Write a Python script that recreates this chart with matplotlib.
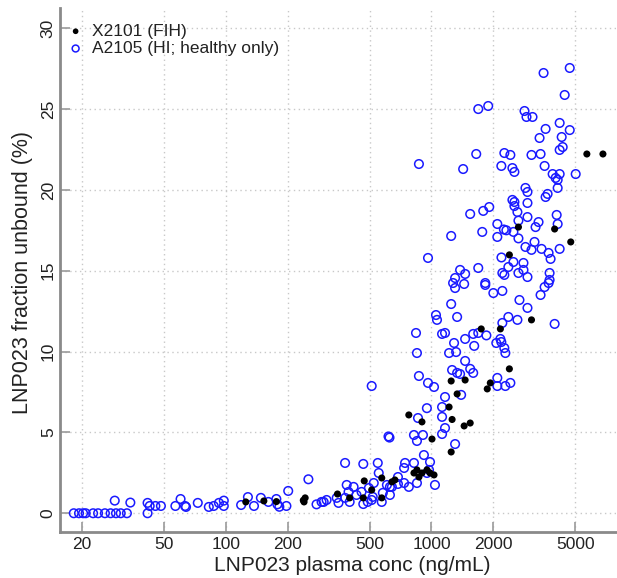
import matplotlib
matplotlib.use("Agg")
import matplotlib.pyplot as plt
from matplotlib.ticker import FixedLocator, FixedFormatter, NullLocator

plt.rcParams['font.family'] = ['Liberation Sans', 'DejaVu Sans']

# Study X2101 (FIH): plasma concentration (ng/mL) and fraction unbound (%)
x2101_conc = [125, 153, 176, 238, 243, 240, 349, 400, 466, 471, 512, 573, 573, 642, 664,
              822, 850, 869, 899, 951, 984, 1029, 1006, 1247, 1260, 1746, 2164, 2393, 1247,
              1458, 1933, 1868, 1333, 1218, 776, 899, 1442, 1543, 2649, 2393, 5700, 6825,
              3973, 4759, 3066]
x2101_fu = [0.7, 0.76, 0.72, 0.8, 0.95, 0.7, 1.19, 0.95, 0.95, 2.0, 1.44, 2.18, 0.95, 1.94, 2.06,
            2.49, 2.68, 2.24, 2.49, 2.68, 2.49, 2.37, 4.59, 3.79, 5.8, 11.4, 11.4, 8.93, 8.18,
            8.24, 8.06, 7.69, 7.38, 6.57, 6.08, 5.65, 5.4, 5.58, 17.7, 15.98, 22.22, 22.22,
            17.58, 16.78, 11.96]

# Study A2105 (HI; healthy subjects only)
a2105_conc = [
    18.2, 19.3, 20.2, 20.8, 22.6, 23.9, 25.8, 27.5, 29.2, 30.8, 33.0, 41.6,
    28.8, 34.3, 41.6, 42.6, 45.4, 48.3, 56.8, 60.2, 63.3, 64.0, 73.0, 82.6, 87.3, 92.5,
    97.7, 97.7, 118.6, 128, 137, 148, 161, 176, 178, 182, 197, 201, 252, 276, 292, 309, 299,
    346, 353, 380, 387, 395, 418, 432, 457, 466, 466, 496, 518, 524, 548, 554, 580, 607,
    628, 628, 618, 625, 736, 744, 736, 776, 822, 822, 850, 850, 909, 919, 951, 973, 984,
    1040, 1126, 1164, 1303, 512, 380, 400, 490, 512, 573, 642, 687, 687,
    1247, 1052, 1064, 1333, 841, 1126, 1164, 2212, 2366, 2619, 1288, 1458, 1596, 1689,
    1850, 1614, 2067, 2163, 2187, 2262, 2288, 850, 1218, 1318, 1458, 1260, 1333, 1378,
    1543, 1596, 869, 962, 1029, 2091, 2091, 2288, 2420, 1164, 1394, 950, 1126, 1126, 860,
    869, 1651, 1426, 2262, 2420, 2187, 2476, 2532, 2476, 2532, 2532, 2619, 1910, 1786,
    1543, 2649, 2091, 2250, 2314, 2504, 1766, 2091, 2649, 1247, 962, 2190, 2366, 1689,
    1378, 1458, 1303, 1274, 1303, 1442, 1827, 1827, 2212, 2262, 2649, 2000, 2212, 2679,
    1689, 1888,
    3510, 4705, 4446, 2835, 2899, 3101, 3591, 3356, 4203, 4705, 4299, 4348, 4203, 3066,
    3394, 3551, 3885, 4203, 4018, 4110, 5030, 4110, 2866, 2931, 3672, 3591, 2931, 4065,
    2931, 3318, 3209, 4110, 3171, 3066, 2866, 3432, 3713, 3797, 4203, 2504, 2802, 2802,
    2931, 3755, 3755, 3713, 3551, 3394, 2931, 3973]
a2105_fu = [
    0, 0, 0, 0, 0, 0, 0, 0, 0, 0, 0, 0,
    0.78, 0.66, 0.64, 0.45, 0.45, 0.45, 0.45, 0.88, 0.45, 0.39, 0.64, 0.39, 0.45, 0.64,
    0.78, 0.45, 0.51, 1.0, 0.45, 0.95, 0.7, 0.88, 0.55, 0.4, 0.45, 1.38, 2.1, 0.55, 0.7, 0.82, 0.7,
    0.95, 0.64, 3.11, 1.75, 1.32, 1.63, 1.13, 1.32, 0.57, 3.05, 1.56, 1.01, 1.87, 3.11, 2.49, 1.26, 1.75,
    1.63, 1.13, 4.75, 4.68, 1.87, 3.11, 2.8, 1.63, 3.11, 4.84, 4.47, 1.87, 4.84, 3.6, 2.49, 2.68, 3.17,
    1.75, 4.9, 5.27, 4.28, 7.87, 0.95, 0.7, 0.7, 0.82, 0.7, 1.63, 1.81, 2.24,
    12.94, 12.26, 11.96, 12.14, 11.15, 11.09, 11.15, 11.77, 12.14, 11.96, 10.53, 10.78, 11.09, 11.15,
    11.0, 10.35, 10.53, 10.78, 10.59, 10.22, 9.91, 9.91, 9.91, 9.97, 9.42, 8.86, 8.68, 8.61,
    8.93, 8.68, 8.49, 8.06, 7.81, 8.37, 7.87, 7.87, 8.06, 7.19, 7.32, 6.5, 6.57, 5.96, 5.89,
    21.6, 22.22, 21.29, 22.28, 22.16, 21.48, 21.35, 21.11, 19.38, 19.25, 19.0, 18.63, 18.94, 18.7,
    18.51, 18.1, 17.89, 17.55, 17.5, 17.4, 17.4, 17.09, 17.0, 17.15, 15.79, 15.82, 15.23, 15.17,
    15.05, 14.8, 14.55, 14.24, 13.93, 14.18, 14.24, 14.12, 14.86, 14.74, 14.86, 13.62, 13.75, 13.19,
    25.0, 25.19,
    27.23, 27.54, 25.87, 24.88, 24.51, 24.51, 23.77, 23.21, 24.14, 23.7, 23.27, 22.65, 22.47, 22.16,
    22.22, 21.48, 20.98, 20.98, 20.74, 20.62, 20.98, 20.12, 20.12, 19.87, 19.75, 19.56, 19.19, 18.45,
    18.32, 18.01, 17.7, 17.89, 16.78, 16.29, 16.47, 16.35, 16.1, 15.73, 16.35, 15.54, 15.48, 15.05,
    14.61, 14.86, 14.43, 14.24, 13.99, 13.5, 12.7, 11.71]

x_ticks = [20, 50, 100, 200, 500, 1000, 2000, 5000]
x_tick_labels = ['20', '50', '100', '200', '500', '1000', '2000', '5000']
y_ticks = [0, 5, 10, 15, 20, 25, 30]

fig = plt.figure(figsize=(6.17, 5.78), dpi=100)
W, H = 617, 578
left, right, top, bottom = 60, 616, 8, 532
ax = fig.add_axes([left / W, 1 - bottom / H, (right - left) / W, (bottom - top) / H])

ax.set_xscale('log')
ax.set_xlim(15.6, 7900)
ax.set_ylim(-1.16, 31.25)

ax.scatter(a2105_conc, a2105_fu, s=38, facecolors='none', edgecolors='#1a1aff',
           linewidths=1.1, zorder=3, label='A2105 (HI; healthy only)')
ax.scatter(x2101_conc, x2101_fu, s=26, color='black', edgecolors='none', zorder=4,
           label='X2101 (FIH)')

ax.xaxis.set_major_locator(FixedLocator(x_ticks))
ax.xaxis.set_major_formatter(FixedFormatter(x_tick_labels))
ax.xaxis.set_minor_locator(NullLocator())
ax.set_yticks(y_ticks)
ax.set_yticklabels([str(v) for v in y_ticks], rotation=90, va='center')

ax.grid(True, which='major', linestyle=(0, (1, 2.5)), color='#c8c8c8', linewidth=1.0, zorder=0)

for side in ('top', 'right'):
    ax.spines[side].set_visible(False)
for side in ('left', 'bottom'):
    ax.spines[side].set_color('#8a8a8a')
    ax.spines[side].set_linewidth(2.0)

ax.tick_params(axis='both', direction='in', length=7, width=1.2, color='#9a9a9a',
               labelsize=12.5, labelcolor='#222222')
ax.tick_params(axis='x', pad=3.5)
ax.tick_params(axis='y', pad=3)

ax.set_xlabel('LNP023 plasma conc (ng/mL)', fontsize=15, color='#222222')
ax.set_ylabel('LNP023 fraction unbound (%)', fontsize=15.5, color='#222222')
ax.xaxis.set_label_coords((352 - left) / (right - left), -(556 - bottom) / (bottom - top))
ax.yaxis.set_label_coords(-(left - 33) / (right - left), (bottom - 272) / (bottom - top))

handles, labels = ax.get_legend_handles_labels()
leg = ax.legend(handles[::-1], labels[::-1], loc='upper left', bbox_to_anchor=(0.0, 0.985),
                frameon=False, fontsize=12.5, handlelength=0.9, handletextpad=0.5,
                labelspacing=0.12, borderaxespad=0.2, borderpad=0.25, markerscale=0.8)
for t in leg.get_texts():
    t.set_color('#222222')

fig.savefig('out.png', dpi=100)
